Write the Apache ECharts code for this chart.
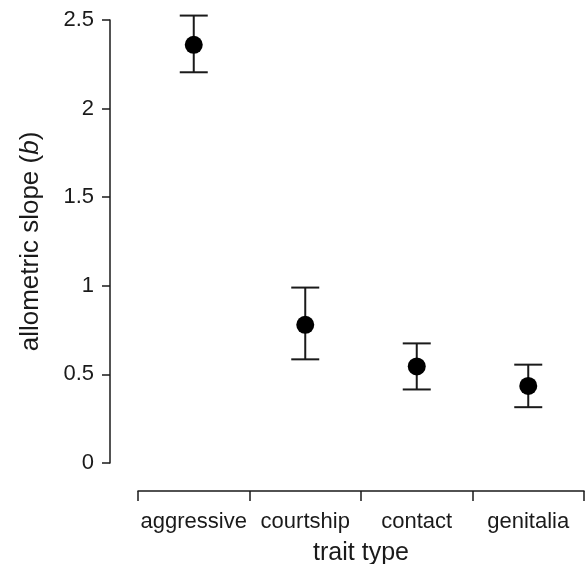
<html>
<head>
  <meta charset="utf-8">
  <title>allometric slope</title>
  <script src="https://cdn.jsdelivr.net/npm/echarts@6/dist/echarts.min.js"></script>
  <style>
    html, body { margin: 0; padding: 0; background: #fff; }
    #chart { width: 585px; height: 564px; }
  </style>
</head>
<body>
  <div id="chart"></div>
  <script>
    // data
    var traits = ['aggressive', 'courtship', 'contact', 'genitalia'];
    var slopes = [2.36, 0.78, 0.545, 0.435];
    var lower = [2.205, 0.585, 0.415, 0.315];
    var upper = [2.525, 0.99, 0.675, 0.555];

    var ink = '#1a1a1a';
    var font = 'Liberation Sans, Helvetica, Arial, sans-serif';

    var errData = [];
    for (var i = 0; i < traits.length; i++) {
      errData.push([i, lower[i], upper[i]]);
    }

    var chart = echarts.init(document.getElementById('chart'));
    chart.setOption({
      animation: false,
      grid: { left: 138, right: 1, top: 20, bottom: 101, outerBoundsMode: 'none', containLabel: false },
      xAxis: {
        type: 'category',
        data: traits,
        offset: 28,
        boundaryGap: true,
        name: 'trait type',
        nameLocation: 'middle',
        nameGap: 50,
        nameTextStyle: { fontFamily: font, fontSize: 25, color: ink },
        axisLine: { onZero: false, lineStyle: { color: ink, width: 1.5 } },
        axisTick: { show: true, interval: 0, length: 10, lineStyle: { color: ink, width: 1.5 } },
        axisLabel: { interval: 0, margin: 20, fontFamily: font, fontSize: 22, color: ink, hideOverlap: false },
        splitLine: { show: false }
      },
      yAxis: {
        type: 'value',
        min: 0,
        max: 2.5,
        interval: 0.5,
        offset: 28,
        name: 'allometric slope ({i|b})',
        nameLocation: 'middle',
        nameGap: 66,
        nameTextStyle: {
          fontFamily: font, fontSize: 26, color: ink,
          rich: { i: { fontStyle: 'italic', fontFamily: font, fontSize: 26, color: ink } }
        },
        axisLine: { show: true, lineStyle: { color: ink, width: 1.5 } },
        axisTick: { show: true, length: 8, lineStyle: { color: ink, width: 1.5 } },
        axisLabel: { margin: 16, fontFamily: font, fontSize: 22, color: ink },
        splitLine: { show: false }
      },
      series: [
        {
          type: 'custom',
          data: errData,
          z: 2,
          renderItem: function (params, api) {
            var lo = api.coord([api.value(0), api.value(1)]);
            var hi = api.coord([api.value(0), api.value(2)]);
            var half = 14;
            var style = { stroke: ink, lineWidth: 2 };
            return {
              type: 'group',
              children: [
                { type: 'line', shape: { x1: hi[0], y1: hi[1], x2: lo[0], y2: lo[1] }, style: style },
                { type: 'line', shape: { x1: hi[0] - half, y1: hi[1], x2: hi[0] + half, y2: hi[1] }, style: style },
                { type: 'line', shape: { x1: lo[0] - half, y1: lo[1], x2: lo[0] + half, y2: lo[1] }, style: style }
              ]
            };
          }
        },
        {
          type: 'scatter',
          data: slopes,
          z: 3,
          symbol: 'circle',
          symbolSize: 18,
          itemStyle: { color: '#000', opacity: 1 }
        }
      ]
    });
  </script>
</body>
</html>
